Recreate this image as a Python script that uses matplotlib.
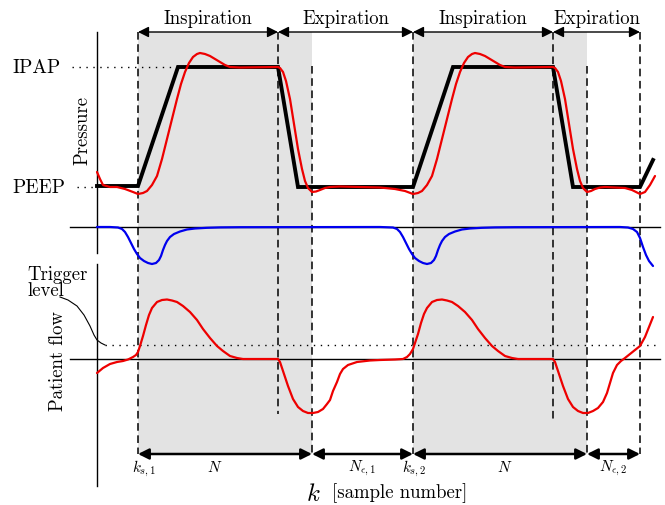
import matplotlib
matplotlib.use("Agg")
import matplotlib.pyplot as plt

plt.rcParams['mathtext.fontset'] = 'cm'
plt.rcParams['axes.formatter.use_mathtext'] = True
FONT = 'cmr10'

# ---- data (pixel coordinates, y grows downward) ----
# phase boundaries
k_marks = [138, 278, 312, 413, 553, 587, 640]
ipap_level = 68
peep_level = 188
press_zero = 228
flow_zero = 360
trigger_level = 346

# commanded pressure (black)
cmd_x = [97, 138, 178, 278, 298, 413, 453, 553, 573, 640, 653]
cmd_y = [187, 187, 68, 68, 188, 188, 68, 68, 188, 188, 161]

# measured pressure (red)
pres_x = [97, 100, 103, 110, 117, 125, 133, 138, 143, 147, 152, 157, 162, 167, 172, 177, 181, 185,
          189, 193, 197, 200, 205, 210, 215, 220, 225, 230, 240, 278, 280, 283, 286, 290, 294, 298,
          302, 305, 308, 312, 316, 320, 325, 330, 340, 360, 380, 395, 405, 413, 418, 422, 427, 432,
          437, 442, 447, 452, 456, 460, 464, 468, 472, 475, 480, 485, 490, 495, 500, 505, 515, 553,
          555, 558, 561, 565, 569, 573, 577, 580, 583, 587, 591, 595, 600, 605, 615, 625, 632, 640,
          645, 650, 655]
pres_y = [173, 180, 186, 188, 188, 190, 193, 195, 194, 192, 186, 177, 160, 140, 120, 100, 85, 73,
          64, 58, 55, 54, 55, 57, 60, 63, 66, 68, 68.5, 68, 69, 73, 82, 100, 125, 150,
          170, 182, 189, 193, 192.5, 191, 189, 188, 187.5, 188, 188.5, 190, 192, 195, 194, 192, 186, 177,
          160, 140, 120, 100, 85, 73, 64, 58, 55, 54, 55, 57, 60, 63, 66, 68, 68.5, 68,
          69, 73, 82, 100, 125, 150, 170, 182, 189, 193, 192, 190, 188.5, 188, 188.5, 189, 191, 195,
          193, 186, 177]

# pressure-related blue signal
blue_x = [97, 110, 118, 122, 125, 128, 131, 134, 137, 140, 144, 148, 152, 156, 159, 161, 163, 165,
          167, 170, 174, 180, 187, 195, 207, 220, 240, 380, 393, 397, 400, 403, 406, 409, 412, 415,
          419, 423, 427, 431, 434, 436, 438, 440, 442, 445, 449, 455, 462, 470, 482, 495, 515, 620,
          628, 633, 637, 640, 643, 646, 649, 653]
blue_y = [228, 228, 228.5, 230, 233, 238, 244, 250, 255, 259, 262, 264, 265, 264, 261, 257, 251, 246,
          242, 238, 235, 232.5, 230.5, 229.5, 228.8, 228.4, 228.2, 228, 228.5, 230, 233, 238, 244, 250, 255,
          259, 262, 264, 265, 264, 261, 257, 251, 246, 242, 238, 235, 232.5, 230.5, 229.5, 228.8, 228.4, 228.2, 228,
          228.5, 230, 233, 239, 248, 256, 262, 267]

# patient flow (red)
flow_x = [97, 103, 110, 117, 123, 128, 133, 136, 138, 140, 143, 146, 149, 152, 157, 162, 167, 172,
          177, 183, 190, 197, 203, 210, 217, 223, 230, 237, 243, 250, 278, 280, 283, 288, 293, 298,
          303, 308, 313, 318, 323, 327, 330, 333, 337, 340, 343, 348, 357, 370, 380, 395, 403, 407,
          410, 413, 415, 418, 421, 424, 427, 432, 437, 442, 447, 452, 458, 465, 472, 478, 485, 492,
          498, 505, 512, 518, 525, 553, 555, 558, 563, 568, 573, 578, 583, 588, 593, 598, 603, 607,
          610, 613, 617, 621, 625, 630, 635, 640, 645, 649, 653]
flow_y = [374, 369, 365, 363, 362, 360.5, 358, 356, 353, 347, 337, 326, 316, 309, 303, 301, 300.5, 301.5,
          303, 307, 313, 321, 330, 339, 347, 352, 357, 359, 360, 360, 360, 363, 372, 387, 400, 408,
          412, 414, 414, 413, 410, 405, 401, 392, 383, 375, 370, 366, 363, 361.5, 361, 360.5, 360, 358,
          355, 350, 344, 335, 324, 315, 309, 303, 301, 300.5, 301.5, 303, 307, 313, 321, 330, 339, 347,
          352, 357, 359, 360, 360, 360, 363, 372, 387, 400, 408, 412, 414, 414, 412, 409, 403, 394,
          384, 374, 366, 362, 359, 355, 351, 347, 338, 328, 318]

# leader line from "Trigger level" label
lead_x = [60, 68, 77, 84, 90, 94, 97, 101, 105]
lead_y = [298, 301, 307, 316, 327, 336, 341, 344, 346]

top_labels = ['Inspiration', 'Expiration', 'Inspiration', 'Expiration']
top_spans = [(138, 278), (278, 413), (413, 553), (553, 640)]
bot_spans = [(138, 312), (312, 413), (413, 587), (587, 640)]
bot_labels = [r'$N$', r'$N_{\epsilon,1}$', r'$N$', r'$N_{\epsilon,2}$']
ks_labels = [r'$k_{s,1}$', r'$k_{s,2}$']

# ---- figure ----
fig = plt.figure(figsize=(6.65, 5.06), dpi=100)
ax = fig.add_axes([0, 0, 1, 1])
ax.set_xlim(0, 665)
ax.set_ylim(506, 0)
ax.axis('off')

# shaded inspiration windows
for a, b in [(k_marks[0], k_marks[2]), (k_marks[3], k_marks[5])]:
    ax.axvspan(a, b, ymin=1 - 455 / 506, ymax=1 - 33 / 506, color='#e3e3e3', lw=0, zorder=0)

# axes lines
ax.plot([97, 97], [33, 254], color='k', lw=1)
ax.plot([97, 97], [265, 487], color='k', lw=1)
ax.plot([70, 660], [press_zero, press_zero], color='k', lw=1)
ax.plot([70, 660], [flow_zero, flow_zero], color='k', lw=1)

# dotted reference levels
ax.plot([72, 178], [ipap_level, ipap_level], color='k', lw=1, ls=(0, (1, 4)))
ax.plot([77, 97], [peep_level, peep_level], color='k', lw=1, ls=(0, (1, 4)))
ax.plot([105, 660], [trigger_level, trigger_level], color='k', lw=1, ls=(0, (1, 4)))

# dashed vertical markers
dash_tops = [33, 33, 67, 33, 33, 67, 33]
dash_bots = [455, 415, 455, 455, 420, 455, 455]
for x, t, b in zip(k_marks, dash_tops, dash_bots):
    ax.plot([x, x], [t, b], color='k', lw=1.1, ls=(0, (5, 3)), zorder=2)

# signals
ax.plot(cmd_x, cmd_y, color='k', lw=2.8, solid_joinstyle='miter', zorder=3)
for xs, ys, c in [(pres_x, pres_y, '#ee0000'), (blue_x, blue_y, '#0000ee'),
                  (flow_x, flow_y, '#ee0000')]:
    ax.plot(xs, ys, color=c, lw=1.6, solid_joinstyle='round', solid_capstyle='round', zorder=4)
ax.plot(lead_x, lead_y, color='k', lw=0.8, solid_joinstyle='round')

# top phase arrows
for (a, b), lab in zip(top_spans, top_labels):
    ax.annotate('', xy=(a, 33), xytext=(b, 33),
                arrowprops=dict(arrowstyle='<|-|>', color='k', lw=1.0, mutation_scale=16,
                                shrinkA=0, shrinkB=0))
    ax.text((a + b) / 2, 19, lab, fontsize=13.5, family=FONT, ha='center', va='center')

# bottom window arrows
for (a, b), lab in zip(bot_spans, bot_labels):
    ax.annotate('', xy=(a, 455), xytext=(b, 455),
                arrowprops=dict(arrowstyle='<|-|>', color='k', lw=1.8, mutation_scale=16,
                                shrinkA=0, shrinkB=0))
ax.text(215, 468, bot_labels[0], fontsize=11, ha='center', va='center')
ax.text(362, 468, bot_labels[1], fontsize=11, ha='center', va='center')
ax.text(505, 468, bot_labels[2], fontsize=11, ha='center', va='center')
ax.text(613, 468, bot_labels[3], fontsize=11, ha='center', va='center')
ax.text(144, 469, ks_labels[0], fontsize=11, ha='center', va='center')
ax.text(414, 469, ks_labels[1], fontsize=11, ha='center', va='center')

# axis labels
ax.text(12, 68, 'IPAP', fontsize=14, family=FONT, ha='left', va='center')
ax.text(12, 188, 'PEEP', fontsize=14, family=FONT, ha='left', va='center')
ax.text(82, 130, 'Pressure', fontsize=13.5, family=FONT, rotation=90, ha='center', va='center')
ax.text(58, 361, 'Patient flow', fontsize=13.5, family=FONT, rotation=90, ha='center', va='center')
ax.text(27, 283, 'Trigger\nlevel', fontsize=13.5, family=FONT, ha='left', va='center',
        linespacing=0.85)
ax.text(313, 494, r'$k$', fontsize=18, ha='center', va='center')
ax.text(400, 493, '[sample number]', fontsize=13.5, family=FONT, ha='center', va='center')

fig.savefig('out.png', dpi=100)
